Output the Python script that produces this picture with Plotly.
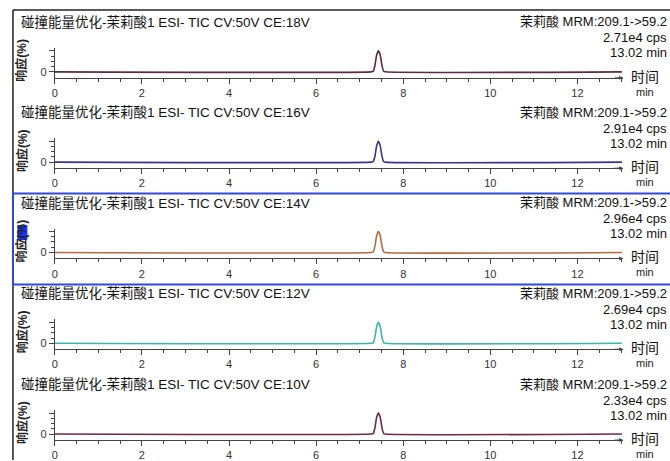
import plotly.graph_objects as go

# ---------------- data ----------------
panel_titles = [
    "碰撞能量优化-茉莉酸1 ESI- TIC CV:50V CE:18V",
    "碰撞能量优化-茉莉酸1 ESI- TIC CV:50V CE:16V",
    "碰撞能量优化-茉莉酸1 ESI- TIC CV:50V CE:14V",
    "碰撞能量优化-茉莉酸1 ESI- TIC CV:50V CE:12V",
    "碰撞能量优化-茉莉酸1 ESI- TIC CV:50V CE:10V",
]
mrm_label = "茉莉酸 MRM:209.1->59.2"
intensity_labels = ["2.71e4 cps", "2.91e4 cps", "2.96e4 cps", "2.69e4 cps", "2.33e4 cps"]
end_time_label = "13.02 min"

time_min = [0.0, 7.27, 7.31, 7.35, 7.39, 7.43, 7.47, 7.51, 7.55, 7.59, 13.02]
resp_ce18 = [0, 0, 2, 30, 80, 100, 82, 32, 3, 0, 0]
resp_ce16 = [0, 0, 2, 28, 78, 100, 80, 30, 3, 0, 0]
resp_ce14 = [0, 0, 2, 30, 80, 100, 82, 32, 3, 0, 0]
resp_ce12 = [0, 0, 2, 29, 79, 100, 81, 31, 3, 0, 0]
resp_ce10 = [0, 0, 2, 30, 80, 100, 82, 32, 3, 0, 0]
responses = [resp_ce18, resp_ce16, resp_ce14, resp_ce12, resp_ce10]

x_tick_vals = [0, 2, 4, 6, 8, 10, 12]
x_tick_text = ["0", "2", "4", "6", "8", "10", "12"]

line_colors = ["#5e2a44", "#3d3190", "#b8693f", "#3cb5ab", "#6e2a40"]

# ---------------- layout helpers ----------------
W, H = 670, 461
FONT = "Liberation Sans, Arial, Noto Sans CJK SC, sans-serif"
offsets = [0, 90.5, 181, 272, 363]

def py(p):
    return 1 - p / H

def pxf(p):
    return p / W

fig = go.Figure()
layout = dict(
    width=W, height=H, margin=dict(l=0, r=0, t=0, b=0),
    paper_bgcolor="white", plot_bgcolor="white", showlegend=False,
    font=dict(family=FONT, color="#222"),
)
annotations = []
shapes = []

for i in range(5):
    off = offsets[i]
    top, bot = 48 + off, 78 + off
    xn = "x" if i == 0 else f"x{i+1}"
    yn = "y" if i == 0 else f"y{i+1}"
    xk = "xaxis" if i == 0 else f"xaxis{i+1}"
    yk = "yaxis" if i == 0 else f"yaxis{i+1}"
    fig.add_trace(go.Scatter(
        x=time_min, y=responses[i], mode="lines",
        line=dict(color=line_colors[i], width=1.6, shape="spline", smoothing=0.6),
        xaxis=xn, yaxis=yn, hoverinfo="skip",
    ))
    layout[xk] = dict(
        domain=[pxf(52), pxf(623)], range=[0, 13.05], anchor=yn,
        showline=True, linecolor="#444", linewidth=1,
        ticks="outside", ticklen=5, tickcolor="#444", tickwidth=1,
        tickvals=x_tick_vals, ticktext=x_tick_text,
        minor=dict(tick0=0, dtick=0.5, ticks="outside", ticklen=3, tickcolor="#444", showgrid=False),
        showgrid=False, zeroline=False, fixedrange=True,
        tickfont=dict(size=11, color="#333", family=FONT),
    )
    layout[yk] = dict(
        domain=[py(bot), py(top)], range=[-28.6, 114.3], anchor=xn,
        showline=True, linecolor="#444", linewidth=1,
        ticks="outside", ticklen=5, tickcolor="#444",
        tickvals=[0, 100], ticktext=["0", ""],
        minor=dict(tickvals=[25, 50, 75], ticks="outside", ticklen=3, tickcolor="#444", showgrid=False),
        showgrid=False, zeroline=False, fixedrange=True,
        tickfont=dict(size=11, color="#333", family=FONT),
    )
    # arrow at end of x axis
    annotations.append(dict(
        x=13.05, y=0, xref=xn, yref=f"{yn} domain", ax=-10, ay=0,
        showarrow=True, arrowhead=2, arrowsize=0.8, arrowwidth=1, arrowcolor="#444", text="",
    ))
    # title
    annotations.append(dict(
        x=pxf(16), y=py(22 + off), xref="paper", yref="paper",
        xanchor="left", yanchor="middle", showarrow=False,
        text=panel_titles[i], font=dict(size=13.5, color="#111", family=FONT),
    ))
    # right-hand labels
    for txt, yy in [(mrm_label, 22), (intensity_labels[i], 38), (end_time_label, 53)]:
        annotations.append(dict(
            x=pxf(669), y=py(yy + off), xref="paper", yref="paper",
            xanchor="right", yanchor="middle", showarrow=False,
            text=txt, font=dict(size=13, color="#111", family=FONT),
        ))
    # y label
    annotations.append(dict(
        x=pxf(19), y=py(60 + off), xref="paper", yref="paper",
        xanchor="center", yanchor="middle", showarrow=False, textangle=-90,
        text="<b>响应(%)</b>", font=dict(size=12, color="#222", family=FONT),
    ))
    # time unit
    annotations.append(dict(
        x=pxf(645), y=py(77 + off), xref="paper", yref="paper",
        xanchor="center", yanchor="middle", showarrow=False,
        text="时间", font=dict(size=14, color="#111", family=FONT),
    ))
    annotations.append(dict(
        x=pxf(645), y=py(92 + off), xref="paper", yref="paper",
        xanchor="center", yanchor="middle", showarrow=False,
        text="min", font=dict(size=11, color="#222", family=FONT),
    ))

# outer border (top and left)
shapes.append(dict(type="line", xref="paper", yref="paper",
                   x0=pxf(10), x1=1, y0=py(10), y1=py(10), line=dict(color="#222", width=1.5)))
shapes.append(dict(type="line", xref="paper", yref="paper",
                   x0=pxf(10), x1=pxf(10), y0=py(10), y1=0, line=dict(color="#222", width=1.5)))
# selected panel (blue frame)
shapes.append(dict(type="rect", xref="paper", yref="paper",
                   x0=pxf(10), x1=pxf(672), y0=py(285), y1=py(194),
                   line=dict(color="#3048e0", width=2)))
# selection marker
shapes.append(dict(type="rect", xref="paper", yref="paper",
                   x0=pxf(15), x1=pxf(24), y0=py(240), y1=py(226),
                   fillcolor="#1a35ff", line=dict(color="#1028d0", width=1)))

layout["annotations"] = annotations
layout["shapes"] = shapes
fig.update_layout(**layout)
fig.write_html("out.html")
